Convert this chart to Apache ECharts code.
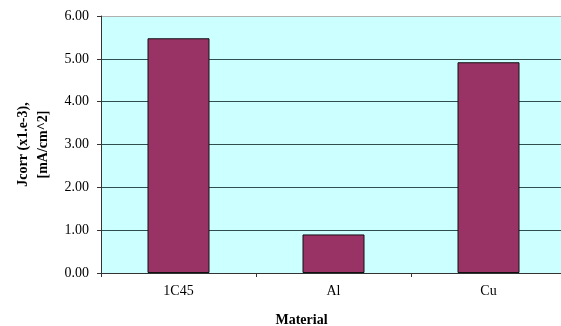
<!DOCTYPE html>
<html>
<head>
<meta charset="utf-8">
<script src="https://cdn.jsdelivr.net/npm/echarts@6/dist/echarts.min.js"></script>
<style>
  html, body { margin: 0; padding: 0; background: #fff; }
  #chart { width: 561px; height: 326px; }
</style>
</head>
<body>
<div id="chart"></div>
<script>
// data
var materials = ['1C45', 'Al', 'Cu']
var jcorr = [5.48, 0.90, 4.92]
var yTicks = [0, 1, 2, 3, 4, 5, 6]

var chart = echarts.init(document.getElementById('chart'))
var font = '"Liberation Serif", "Times New Roman", serif'

// grid lines dark, the top border light grey
var lineColors = yTicks.map(function (t, i) { return i === yTicks.length - 1 ? '#b0b0b0' : '#2f4f4f' })

var option = {
  animation: false,
  grid: {
    left: 101,
    right: -5,
    top: 16,
    bottom: 53,
    outerBoundsMode: 'none',
    containLabel: false,
    show: true,
    backgroundColor: '#ccffff',
    borderWidth: 0
  },
  xAxis: {
    type: 'category',
    data: materials,
    name: 'Material',
    nameLocation: 'middle',
    nameGap: 40,
    nameTextStyle: { fontFamily: font, fontSize: 14, fontWeight: 'bold', color: '#000', padding: [0, 64, 0, 0] },
    axisLine: { lineStyle: { color: '#333', width: 1 } },
    axisTick: { show: true, alignWithLabel: false, length: 4, lineStyle: { color: '#333' } },
    axisLabel: { fontFamily: font, fontSize: 14, color: '#000', margin: 11 },
    splitLine: { show: false }
  },
  yAxis: {
    type: 'value',
    min: yTicks[0],
    max: yTicks[yTicks.length - 1],
    interval: 1,
    name: 'Jcorr (x1.e-3),\n[mA/cm^2]',
    nameLocation: 'middle',
    nameGap: 48,
    nameRotate: 90,
    nameTextStyle: { fontFamily: font, fontSize: 14, fontWeight: 'bold', color: '#000', lineHeight: 20 },
    axisLine: { show: true, lineStyle: { color: '#333', width: 1 } },
    axisTick: { show: true, length: 4, lineStyle: { color: '#333' } },
    axisLabel: {
      fontFamily: font, fontSize: 14, color: '#000', margin: 12,
      formatter: function (v) { return v.toFixed(2) }
    },
    splitLine: { show: true, lineStyle: { color: lineColors, width: 1 } }
  },
  series: [{
    type: 'bar',
    data: jcorr,
    barWidth: '40%',
    itemStyle: { color: '#993366', borderColor: '#111', borderWidth: 1 }
  }]
}
chart.setOption(option)
</script>
</body>
</html>
